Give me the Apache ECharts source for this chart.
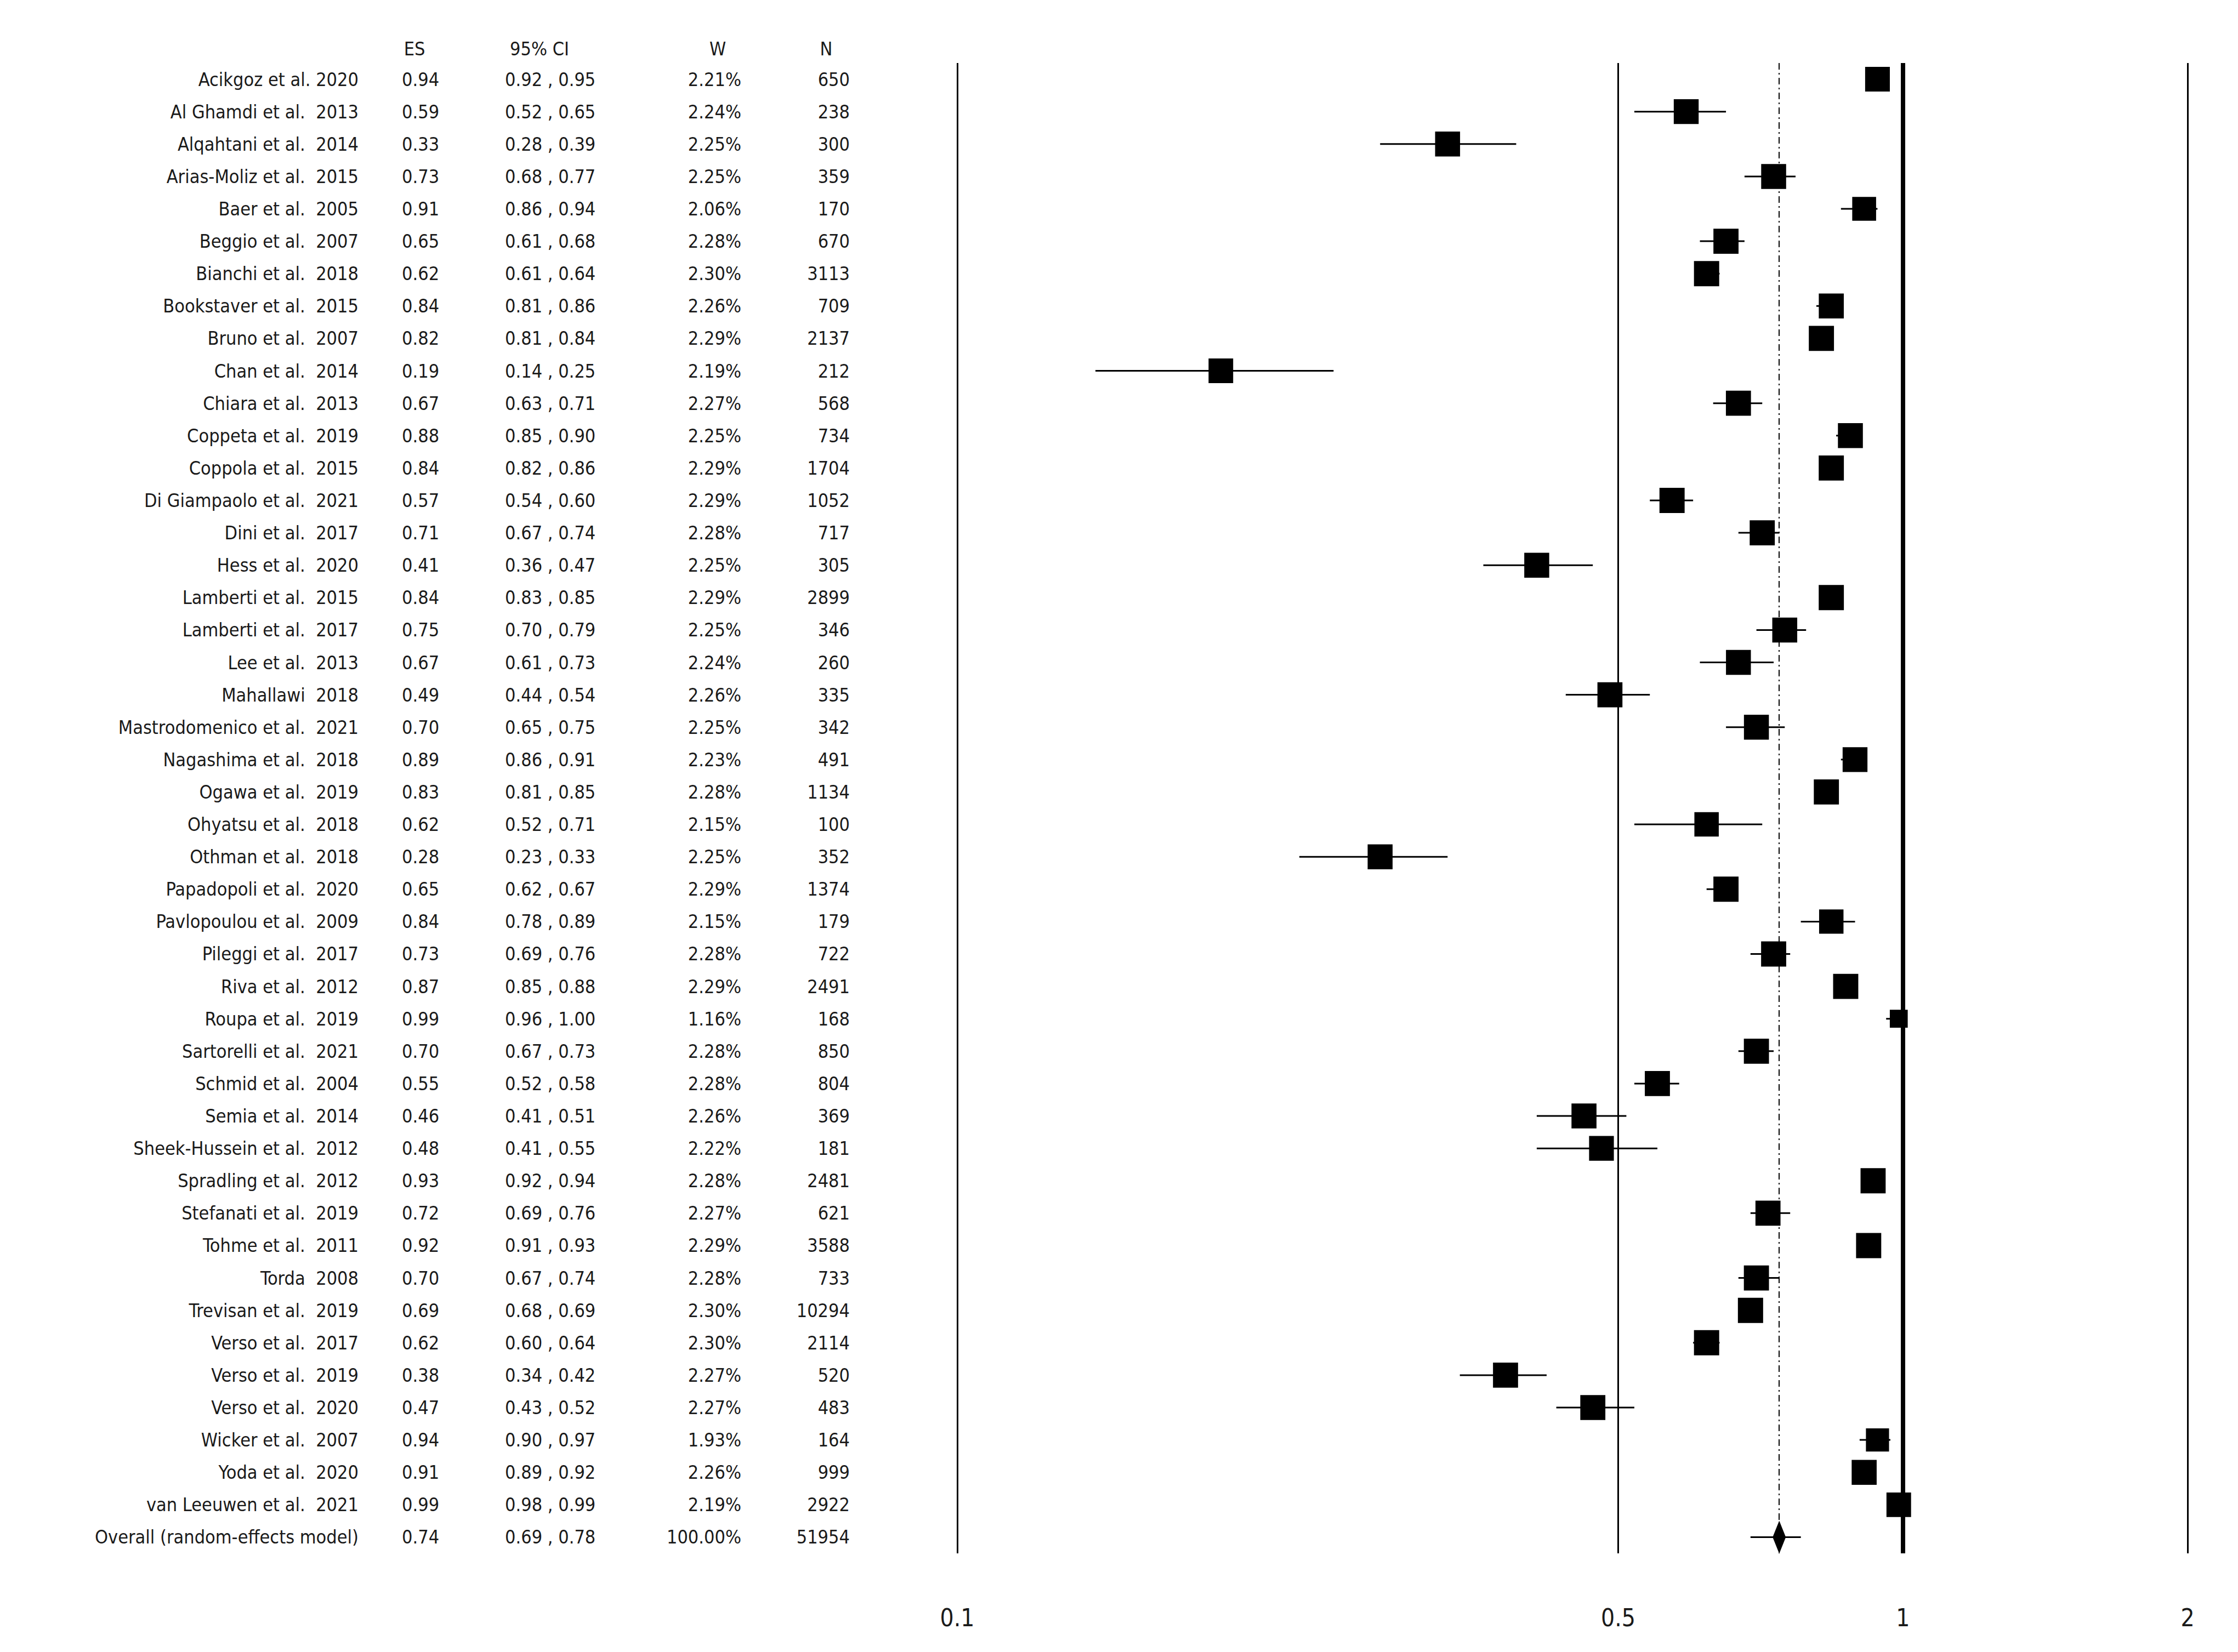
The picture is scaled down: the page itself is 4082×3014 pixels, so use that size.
<!DOCTYPE html>
<html>
<head>
<meta charset="utf-8">
<script src="https://cdn.jsdelivr.net/npm/echarts@6/dist/echarts.min.js"></script>
<style>html,body{margin:0;background:#fff}#main{width:4082px;height:3014px}</style>
</head>
<body>
<div id="main"></div>
<script>
// study rows, top to bottom
var studies = ['Acikgoz et al. 2020','Al Ghamdi et al.  2013','Alqahtani et al.  2014','Arias-Moliz et al.  2015','Baer et al.  2005',
  'Beggio et al.  2007','Bianchi et al.  2018','Bookstaver et al.  2015','Bruno et al.  2007','Chan et al.  2014',
  'Chiara et al.  2013','Coppeta et al.  2019','Coppola et al.  2015','Di Giampaolo et al.  2021','Dini et al.  2017',
  'Hess et al.  2020','Lamberti et al.  2015','Lamberti et al.  2017','Lee et al.  2013','Mahallawi  2018',
  'Mastrodomenico et al.  2021','Nagashima et al.  2018','Ogawa et al.  2019','Ohyatsu et al.  2018','Othman et al.  2018',
  'Papadopoli et al.  2020','Pavlopoulou et al.  2009','Pileggi et al.  2017','Riva et al.  2012','Roupa et al.  2019',
  'Sartorelli et al.  2021','Schmid et al.  2004','Semia et al.  2014','Sheek-Hussein et al.  2012','Spradling et al.  2012',
  'Stefanati et al.  2019','Tohme et al.  2011','Torda  2008','Trevisan et al.  2019','Verso et al.  2017',
  'Verso et al.  2019','Verso et al.  2020','Wicker et al.  2007','Yoda et al.  2020','van Leeuwen et al.  2021',
  'Overall (random-effects model)'];
var es  = [0.94,0.59,0.33,0.73,0.91,0.65,0.62,0.84,0.82,0.19,0.67,0.88,0.84,0.57,0.71,0.41,0.84,0.75,0.67,0.49,
           0.70,0.89,0.83,0.62,0.28,0.65,0.84,0.73,0.87,0.99,0.70,0.55,0.46,0.48,0.93,0.72,0.92,0.70,0.69,0.62,
           0.38,0.47,0.94,0.91,0.99,0.74];
var low = [0.92,0.52,0.28,0.68,0.86,0.61,0.61,0.81,0.81,0.14,0.63,0.85,0.82,0.54,0.67,0.36,0.83,0.70,0.61,0.44,
           0.65,0.86,0.81,0.52,0.23,0.62,0.78,0.69,0.85,0.96,0.67,0.52,0.41,0.41,0.92,0.69,0.91,0.67,0.68,0.60,
           0.34,0.43,0.90,0.89,0.98,0.69];
var high= [0.95,0.65,0.39,0.77,0.94,0.68,0.64,0.86,0.84,0.25,0.71,0.90,0.86,0.60,0.74,0.47,0.85,0.79,0.73,0.54,
           0.75,0.91,0.85,0.71,0.33,0.67,0.89,0.76,0.88,1.00,0.73,0.58,0.51,0.55,0.94,0.76,0.93,0.74,0.69,0.64,
           0.42,0.52,0.97,0.92,0.99,0.78];
var weight = [2.21,2.24,2.25,2.25,2.06,2.28,2.30,2.26,2.29,2.19,2.27,2.25,2.29,2.29,2.28,2.25,2.29,2.25,2.24,2.26,
              2.25,2.23,2.28,2.15,2.25,2.29,2.15,2.28,2.29,1.16,2.28,2.28,2.26,2.22,2.28,2.27,2.29,2.28,2.30,2.30,
              2.27,2.27,1.93,2.26,2.19,100.00];
var nSize = [650,238,300,359,170,670,3113,709,2137,212,568,734,1704,1052,717,305,2899,346,260,335,
             342,491,1134,100,352,1374,179,722,2491,168,850,804,369,181,2481,621,3588,733,10294,2114,
             520,483,164,999,2922,51954];
var tickVals = [0.1, 0.5, 1, 2];

var FONT = '"Liberation Sans Narrow","DejaVu Sans Condensed","Roboto",sans-serif';
var overallIdx = studies.length - 1;

var rows = studies.map(function (s, i) { return [i, es[i], low[i], high[i], weight[i]]; });

function txt(x, y, s, align) {
  return {type: 'text', x: x, y: y, style: {text: s, fill: '#1a1a1a', font: '34px ' + FONT,
    align: align, verticalAlign: 'middle'}};
}

var myChart = echarts.init(document.getElementById('main'), null, {renderer: 'svg'});
var option = {
  backgroundColor: '#fff',
  animation: false,
  grid: {left: 1746, right: 4082 - 3990, top: 115, bottom: 3014 - 2834},
  xAxis: {type: 'log', min: 0.1, max: 2, logBase: 10,
    axisLine: {show: false}, axisTick: {show: false}, axisLabel: {show: false}, splitLine: {show: false}},
  yAxis: {type: 'category', inverse: true, data: studies, show: false, boundaryGap: true},
  series: [{
    type: 'custom',
    data: rows,
    encode: {x: [1, 2, 3], y: 0},
    renderItem: function (params, api) {
      var i = api.value(0);
      var c = api.coord([api.value(1), i]);
      var l = api.coord([api.value(2), i]);
      var h = api.coord([api.value(3), i]);
      var y = c[1];
      var kids = [];
      kids.push({type: 'line', shape: {x1: l[0], y1: y, x2: h[0], y2: y}, style: {stroke: '#000', lineWidth: 3}});
      if (i === overallIdx) {
        kids.push({type: 'polygon', shape: {points: [[c[0] - 12, y], [c[0], y - 30], [c[0] + 12, y], [c[0], y + 30]]},
          style: {fill: '#000'}});
      } else {
        var hs = 23 * Math.sqrt(api.value(4) / 2.3);
        kids.push({type: 'rect', shape: {x: c[0] - hs, y: y - hs, width: 2 * hs, height: 2 * hs}, style: {fill: '#000'}});
      }
      kids.push(txt(654, y, studies[i], 'right'));
      kids.push(txt(733, y, es[i].toFixed(2), 'left'));
      kids.push(txt(921, y, low[i].toFixed(2) + ' , ' + high[i].toFixed(2), 'left'));
      kids.push(txt(1352, y, weight[i].toFixed(2) + '%', 'right'));
      kids.push(txt(1550, y, String(nSize[i]), 'right'));
      if (i === 0) {
        var hy = y - 56;
        kids.push(txt(756, hy, 'ES', 'center'));
        kids.push(txt(984, hy, '95% CI', 'center'));
        kids.push(txt(1309, hy, 'W', 'center'));
        kids.push(txt(1507, hy, 'N', 'center'));
      }
      return {type: 'group', children: kids};
    },
    markLine: {
      silent: true, symbol: 'none',
      label: {show: true, position: 'end', distance: 95, color: '#1a1a1a', fontSize: 44, fontFamily: FONT,
        formatter: function (p) { return p.value === 0.74 ? '' : String(p.value); }},
      data: tickVals.map(function (v) {
        return {xAxis: v, lineStyle: {color: '#000', type: 'solid', width: v === 1 ? 8 : 3}};
      }).concat([{xAxis: es[overallIdx], lineStyle: {color: '#000', type: [12, 6, 3, 6], width: 2}}])
    }
  }]
};
myChart.setOption(option, true);
</script>
</body>
</html>
